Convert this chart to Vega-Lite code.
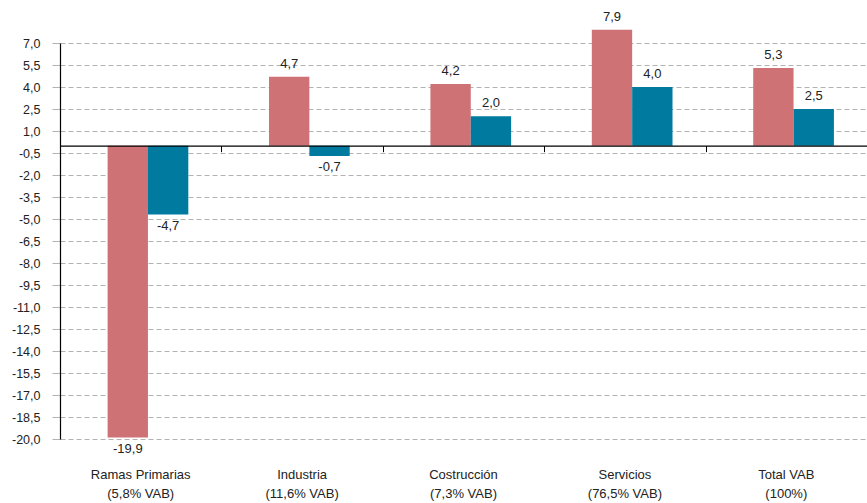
{
  "$schema": "https://vega.github.io/schema/vega-lite/v6.json",
  "width": 807,
  "height": 396,
  "autosize": "none",
  "padding": {"left": 60, "top": 43, "right": 0, "bottom": 64},
  "background": "white",
  "data": {
    "values": [
      {"cat": "Ramas Primarias|(5,8% VAB)", "serie": "A", "v": -19.9},
      {"cat": "Ramas Primarias|(5,8% VAB)", "serie": "B", "v": -4.7},
      {"cat": "Industria|(11,6% VAB)", "serie": "A", "v": 4.7},
      {"cat": "Industria|(11,6% VAB)", "serie": "B", "v": -0.7},
      {"cat": "Costrucción|(7,3% VAB)", "serie": "A", "v": 4.2},
      {"cat": "Costrucción|(7,3% VAB)", "serie": "B", "v": 2.0},
      {"cat": "Servicios|(76,5% VAB)", "serie": "A", "v": 7.9},
      {"cat": "Servicios|(76,5% VAB)", "serie": "B", "v": 4.0},
      {"cat": "Total VAB|(100%)", "serie": "A", "v": 5.3},
      {"cat": "Total VAB|(100%)", "serie": "B", "v": 2.5}
    ]
  },
  "encoding": {
    "xOffset": {"field": "serie", "type": "nominal", "sort": null,
      "scale": {"paddingInner": 0, "paddingOuter": 1.077, "align": 0.59}},
    "y": {
      "field": "v", "type": "quantitative",
      "scale": {"domain": [-20, 7], "nice": false, "zero": false},
      "axis": {
        "title": null,
        "values": [-20, -18.5, -17, -15.5, -14, -12.5, -11, -9.5, -8, -6.5, -5, -3.5, -2, -0.5, 1, 2.5, 4, 5.5, 7],
        "format": ".1f",
        "grid": true,
        "gridColor": "#b3b3b3",
        "gridDash": [5, 3],
        "gridWidth": 1,
        "domainColor": "#000000",
        "domainWidth": 1.2,
        "tickColor": "#b3b3b3",
        "tickSize": 8,
        "labelPadding": 12
      }
    }
  },
  "layer": [
    {
      "mark": {"type": "bar"},
      "encoding": {
        "x": {"field": "cat", "type": "nominal", "sort": null,
          "scale": {"paddingInner": 0, "paddingOuter": 0},
          "axis": {
            "orient": "bottom", "offset": -293.33, "title": null,
            "labels": false, "grid": false, "domain": true, "domainColor": "#000000", "domainWidth": 1.2,
            "ticks": true, "tickBand": "extent", "tickSize": 6, "tickColor": "#000000", "tickWidth": 1, "zindex": 2
          }
        },
        "color": {"field": "serie", "type": "nominal",
          "scale": {"domain": ["A", "B"], "range": ["#CF7276", "#007A9F"]}, "legend": null}
      }
    },
    {
      "transform": [{"filter": "datum.v >= 0"}],
      "mark": {"type": "text", "baseline": "bottom", "dy": -6, "font": "Liberation Sans", "fontSize": 13, "color": "#222222"},
      "encoding": {
        "x": {"field": "cat", "type": "nominal", "sort": null,
          "axis": {
            "orient": "bottom", "title": null, "domain": false, "ticks": false, "grid": false,
            "labelPadding": 29, "labelBaseline": "top", "labelLineHeight": 19, "labelFontSize": 13,
            "labelExpr": "split(datum.value, '|')", "labelAngle": 0
          }
        },
        "text": {"field": "v", "type": "quantitative", "format": ".1f"}
      }
    },
    {
      "transform": [{"filter": "datum.v < 0"}],
      "mark": {"type": "text", "baseline": "top", "dy": 5, "font": "Liberation Sans", "fontSize": 13, "color": "#222222"},
      "encoding": {
        "x": {"field": "cat", "type": "nominal", "sort": null, "axis": null},
        "text": {"field": "v", "type": "quantitative", "format": ".1f"}
      }
    }
  ],
  "resolve": {"axis": {"x": "independent"}},
  "config": {
    "view": {"stroke": null},
    "locale": {"number": {"decimal": ",", "thousands": ".", "grouping": [3], "currency": ["", " €"], "minus": "-"}},
    "axis": {"labelFont": "Liberation Sans", "labelFontSize": 12.5, "labelColor": "#222222"}
  }
}
